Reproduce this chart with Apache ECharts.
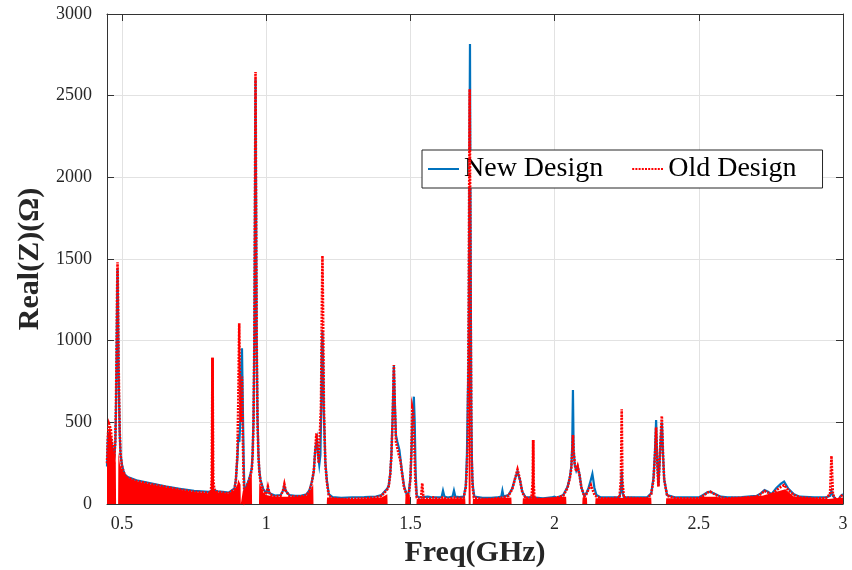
<!DOCTYPE html>
<html>
<head>
<meta charset="utf-8">
<script src="https://cdn.jsdelivr.net/npm/echarts@6/dist/echarts.min.js"></script>
<style>
  html, body { margin: 0; padding: 0; background: #ffffff; }
  #chart { width: 852px; height: 570px; }
</style>
</head>
<body>
<div id="chart"></div>
<script>
// Real part of the input impedance versus frequency, two designs.
const xTicks = [0.5, 1, 1.5, 2, 2.5, 3];
const yTicks = [0, 500, 1000, 1500, 2000, 2500, 3000];

// New design (solid blue)
const newFreq = [
  0.448, 0.451, 0.455, 0.458, 0.461, 0.465, 0.470, 0.474, 0.477, 0.479, 0.481, 0.483, 0.4845, 0.486, 0.488, 0.490,
  0.492, 0.495, 0.500, 0.505, 0.510, 0.520, 0.550, 0.600, 0.650, 0.700, 0.750, 0.800, 0.810, 0.814, 0.818, 0.830,
  0.850, 0.870, 0.890, 0.895, 0.900, 0.904, 0.907, 0.910, 0.913, 0.916, 0.919, 0.922, 0.925, 0.930, 0.935, 0.940,
  0.945, 0.950, 0.953, 0.956, 0.959, 0.961, 0.963, 0.965, 0.967, 0.970, 0.973, 0.976, 0.980, 0.990, 1.000, 1.006,
  1.012, 1.030, 1.050, 1.058, 1.063, 1.068, 1.080, 1.100, 1.120, 1.140, 1.150, 1.158, 1.165, 1.170, 1.176, 1.180,
  1.184, 1.188, 1.191, 1.193, 1.195, 1.197, 1.200, 1.205, 1.210, 1.217, 1.230, 1.260, 1.300, 1.340, 1.380, 1.400,
  1.410, 1.420, 1.425, 1.430, 1.434, 1.438, 1.4427, 1.446, 1.450, 1.455, 1.458, 1.462, 1.466, 1.470, 1.478, 1.485,
  1.490, 1.495, 1.500, 1.504, 1.508, 1.512, 1.515, 1.518, 1.522, 1.530, 1.545, 1.560, 1.564, 1.570, 1.590, 1.608,
  1.613, 1.618, 1.630, 1.646, 1.651, 1.656, 1.670, 1.685, 1.692, 1.696, 1.699, 1.702, 1.704, 1.7066, 1.709, 1.711,
  1.713, 1.715, 1.718, 1.722, 1.750, 1.780, 1.800, 1.815, 1.819, 1.823, 1.840, 1.853, 1.862, 1.8714, 1.880, 1.888,
  1.900, 1.925, 1.960, 1.990, 1.999, 2.008, 2.030, 2.045, 2.053, 2.058, 2.061, 2.0636, 2.066, 2.070, 2.075, 2.080,
  2.086, 2.093, 2.103, 2.110, 2.118, 2.126, 2.131, 2.134, 2.138, 2.145, 2.160, 2.200, 2.225, 2.230, 2.2327, 2.235,
  2.240, 2.280, 2.320, 2.335, 2.343, 2.348, 2.352, 2.356, 2.360, 2.364, 2.368, 2.372, 2.376, 2.380, 2.390, 2.420,
  2.460, 2.500, 2.515, 2.530, 2.540, 2.555, 2.576, 2.600, 2.650, 2.700, 2.715, 2.728, 2.740, 2.752, 2.769, 2.785,
  2.7957, 2.810, 2.830, 2.850, 2.900, 2.940, 2.955, 2.960, 2.965, 2.975, 2.983, 2.990, 3.000
];
const newZ = [
  230, 400, 430, 420, 400, 360, 320, 300, 380, 560, 850, 1250, 1440, 1250, 850, 620,
  440, 300, 240, 205, 180, 165, 145, 126, 108, 93, 80, 74, 78, 110, 85, 78,
  74, 70, 95, 150, 280, 420, 380, 500, 800, 953, 600, 250, 60, 90, 125, 150,
  180, 220, 310, 520, 1000, 1800, 2600, 1800, 1000, 520, 310, 210, 150, 90, 68, 95,
  65, 52, 55, 80, 110, 80, 55, 50, 50, 60, 85, 135, 200, 330, 392, 300,
  240, 300, 600, 950, 1060, 900, 550, 260, 150, 60, 42, 38, 40, 42, 46, 55,
  75, 95, 115, 185, 300, 510, 845, 620, 420, 380, 373, 330, 270, 210, 110, 70,
  45, 80, 160, 330, 540, 657, 500, 200, 50, 40, 42, 45, 57, 42, 40, 42,
  82, 45, 40, 45, 82, 45, 42, 45, 110, 300, 650, 900, 1800, 2816, 1500, 600,
  300, 147, 90, 45, 38, 38, 40, 45, 82, 45, 55, 95, 150, 200, 145, 75,
  40, 40, 35, 40, 45, 38, 55, 105, 165, 230, 350, 698, 330, 240, 205, 230,
  185, 100, 50, 65, 100, 150, 184, 150, 100, 55, 40, 40, 42, 80, 200, 80,
  42, 40, 40, 65, 160, 320, 514, 260, 110, 250, 400, 500, 300, 150, 55, 40,
  40, 40, 55, 72, 75, 62, 45, 40, 42, 50, 65, 85, 75, 60, 98, 125,
  137, 95, 60, 45, 40, 40, 50, 80, 50, 30, 15, 45, 60
];

// Old design (dotted red)
const oldFreq = [
  0.448, 0.451, 0.455, 0.458, 0.461, 0.465, 0.470, 0.474, 0.477, 0.479, 0.481, 0.483, 0.4845, 0.486, 0.488, 0.490,
  0.492, 0.495, 0.500, 0.505, 0.510, 0.520, 0.550, 0.600, 0.650, 0.700, 0.750, 0.800, 0.808, 0.811, 0.8138, 0.8165,
  0.820, 0.830, 0.850, 0.870, 0.890, 0.895, 0.900, 0.903, 0.9065, 0.909, 0.912, 0.916, 0.919, 0.922, 0.925, 0.930,
  0.935, 0.940, 0.945, 0.950, 0.953, 0.956, 0.959, 0.961, 0.963, 0.965, 0.967, 0.970, 0.973, 0.976, 0.980, 0.990,
  1.000, 1.006, 1.012, 1.030, 1.050, 1.058, 1.063, 1.068, 1.080, 1.100, 1.120, 1.140, 1.150, 1.158, 1.165, 1.170,
  1.174, 1.178, 1.182, 1.186, 1.190, 1.193, 1.195, 1.197, 1.200, 1.205, 1.210, 1.217, 1.230, 1.260, 1.300, 1.340,
  1.380, 1.400, 1.410, 1.420, 1.425, 1.430, 1.434, 1.438, 1.4427, 1.446, 1.450, 1.455, 1.460, 1.466, 1.470, 1.478,
  1.485, 1.490, 1.495, 1.500, 1.503, 1.5066, 1.510, 1.513, 1.517, 1.522, 1.530, 1.537, 1.541, 1.545, 1.560, 1.580,
  1.600, 1.613, 1.630, 1.650, 1.670, 1.685, 1.692, 1.696, 1.699, 1.702, 1.7055, 1.709, 1.712, 1.716, 1.720, 1.750,
  1.780, 1.800, 1.820, 1.840, 1.853, 1.862, 1.8714, 1.880, 1.888, 1.900, 1.920, 1.9245, 1.9257, 1.927, 1.930, 1.960,
  2.000, 2.030, 2.045, 2.053, 2.058, 2.062, 2.0636, 2.066, 2.070, 2.075, 2.080, 2.086, 2.093, 2.103, 2.110, 2.118,
  2.126, 2.131, 2.140, 2.160, 2.200, 2.225, 2.230, 2.2327, 2.235, 2.240, 2.280, 2.320, 2.335, 2.343, 2.348, 2.352,
  2.356, 2.360, 2.364, 2.368, 2.3718, 2.376, 2.380, 2.390, 2.420, 2.460, 2.500, 2.515, 2.530, 2.540, 2.555, 2.576,
  2.600, 2.650, 2.700, 2.715, 2.728, 2.740, 2.752, 2.769, 2.785, 2.7957, 2.810, 2.830, 2.850, 2.900, 2.940, 2.955,
  2.960, 2.965, 2.975, 2.983, 2.990, 3.000
];
const oldZ = [
  250, 420, 490, 500, 460, 380, 330, 300, 400, 600, 900, 1300, 1480, 1300, 900, 650,
  450, 300, 230, 200, 175, 160, 140, 122, 105, 88, 75, 68, 70, 150, 896, 150,
  90, 75, 70, 65, 90, 150, 300, 600, 1106, 700, 500, 780, 400, 150, 40, 80,
  120, 140, 170, 210, 300, 500, 1000, 1800, 2645, 1800, 1000, 500, 300, 200, 140, 80,
  60, 106, 60, 45, 50, 80, 122, 80, 50, 45, 45, 55, 80, 130, 200, 330,
  433, 350, 250, 250, 600, 1200, 1520, 1200, 600, 250, 140, 50, 35, 30, 32, 35,
  40, 50, 70, 90, 110, 180, 290, 500, 851, 600, 380, 340, 300, 260, 200, 100,
  67, 50, 70, 150, 300, 590, 560, 400, 150, 40, 30, 40, 127, 40, 30, 40,
  30, 40, 30, 40, 35, 40, 100, 228, 400, 1200, 2540, 1200, 300, 100, 40, 30,
  30, 35, 40, 50, 90, 150, 212, 150, 70, 35, 40, 150, 392, 150, 35, 28,
  35, 50, 100, 160, 220, 350, 422, 330, 240, 200, 230, 180, 100, 45, 60, 90,
  116, 90, 50, 35, 35, 40, 150, 580, 150, 40, 35, 35, 60, 150, 300, 470,
  250, 106, 250, 420, 539, 300, 150, 50, 35, 35, 35, 50, 70, 75, 60, 40,
  35, 38, 45, 60, 80, 70, 55, 85, 105, 116, 85, 55, 40, 35, 35, 60,
  294, 60, 25, 10, 40, 60
];

// Envelope of the old design's rapid oscillation (filled down to zero); the
// narrow resonances at 0.814, 1.706 and 1.926 GHz are dense enough to read as solid
const oldBandFreq = [
  0.448, 0.452, 0.458, 0.462, 0.468, 0.474, 0.4785, 0.4795, 0.4865, 0.4875, 0.493, 0.505, 0.520, 0.550, 0.600, 0.650,
  0.700, 0.750, 0.800, 0.8085, 0.809, 0.8186, 0.819, 0.830, 0.870, 0.890, 0.900, 0.903, 0.908, 0.911, 0.912, 0.918,
  0.919, 0.930, 0.945, 0.950, 0.951, 0.975, 0.976, 0.990, 1.000, 1.030, 1.100, 1.140, 1.155, 1.163, 1.164, 1.210,
  1.211, 1.300, 1.400, 1.420, 1.421, 1.482, 1.483, 1.498, 1.499, 1.521, 1.522, 1.690, 1.691, 1.7020, 1.7023, 1.7087,
  1.7090, 1.716, 1.717, 1.850, 1.851, 1.889, 1.890, 1.9210, 1.9214, 1.9300, 1.9304, 2.040, 2.041, 2.096, 2.097, 2.112,
  2.113, 2.141, 2.142, 2.335, 2.336, 2.386, 2.387, 2.500, 2.510, 2.560, 2.580, 2.720, 2.800, 2.830, 2.950, 3.000
];
const oldBandTop = [
  250, 420, 480, 430, 330, 290, 250, 0, 0, 320, 240, 195, 160, 140, 120, 103,
  87, 74, 66, 85, 896, 896, 85, 72, 64, 85, 120, 150, 140, 120, 0, 0,
  80, 100, 160, 180, 0, 0, 130, 70, 55, 45, 44, 50, 90, 120, 0, 0,
  40, 30, 40, 60, 0, 0, 55, 55, 0, 0, 30, 35, 0, 0, 2540, 2540,
  0, 0, 30, 40, 0, 0, 35, 35, 392, 392, 35, 45, 0, 0, 40, 40,
  0, 0, 35, 40, 0, 0, 35, 35, 45, 45, 35, 50, 90, 45, 30, 40
];

const pairs = (fs, zs) => fs.map((f, i) => [f, zs[i]]);

const serif = '"Liberation Serif", "DejaVu Serif", serif';
const axisColor = '#333333';
const gridColor = '#e2e2e2';
const xMin = 0.448, xMax = 3;

const chart = echarts.init(document.getElementById('chart'), null, { renderer: 'canvas' });

chart.setOption({
  animation: false,
  backgroundColor: '#ffffff',
  grid: { left: 107, right: 9, top: 14, bottom: 66, containLabel: false, outerBoundsMode: 'none' },
  legend: {
    data: ['New Design', 'Old Design'],
    left: 422, top: 150,
    orient: 'horizontal',
    itemWidth: 31, itemHeight: 10, itemGap: 28,
    padding: [5, 26, 5, 5],
    backgroundColor: '#ffffff',
    borderColor: '#262626', borderWidth: 1, borderRadius: 0,
    itemStyle: { opacity: 0, borderWidth: 0 },
    textStyle: { fontFamily: serif, fontSize: 28, color: '#000000' }
  },
  xAxis: [
    {
      type: 'value', min: xMin, max: xMax, position: 'bottom',
      axisLine: { show: true, onZero: false, lineStyle: { color: axisColor, width: 1 } },
      axisTick: { show: true, inside: true, length: 7, customValues: xTicks, lineStyle: { color: axisColor } },
      axisLabel: { customValues: xTicks, margin: 11, fontFamily: serif, fontSize: 18, color: '#262626',
                   formatter: v => String(v) },
      splitLine: { show: true, lineStyle: { color: gridColor, width: 1 } },
      name: 'Freq(GHz)', nameLocation: 'middle', nameGap: 34,
      nameTextStyle: { fontFamily: serif, fontSize: 30, fontWeight: 'bold', color: '#262626' }
    },
    {
      type: 'value', min: xMin, max: xMax, position: 'top',
      axisLine: { show: true, onZero: false, lineStyle: { color: axisColor, width: 1 } },
      axisTick: { show: true, inside: true, length: 7, customValues: xTicks, lineStyle: { color: axisColor } },
      axisLabel: { show: false },
      splitLine: { show: false }
    }
  ],
  yAxis: [
    {
      type: 'value', min: 0, max: 3000, interval: 500, position: 'left',
      axisLine: { show: true, onZero: false, lineStyle: { color: axisColor, width: 1 } },
      axisTick: { show: true, inside: true, length: 7, lineStyle: { color: axisColor } },
      axisLabel: { margin: 15, fontFamily: serif, fontSize: 18, color: '#262626',
                   formatter: v => String(v) },
      splitLine: { show: true, lineStyle: { color: gridColor, width: 1 } },
      name: 'Real(Z)(Ω)', nameLocation: 'middle', nameGap: 52, nameRotate: 90,
      nameTextStyle: { fontFamily: serif, fontSize: 30, fontWeight: 'bold', color: '#262626' }
    },
    {
      type: 'value', min: 0, max: 3000, interval: 500, position: 'right',
      axisLine: { show: true, onZero: false, lineStyle: { color: axisColor, width: 1 } },
      axisTick: { show: true, inside: true, length: 7, lineStyle: { color: axisColor } },
      axisLabel: { show: false },
      splitLine: { show: false }
    }
  ],
  series: [
    {
      name: 'New Design', type: 'line', xAxisIndex: 0, yAxisIndex: 0,
      data: pairs(newFreq, newZ),
      symbol: 'none', z: 2,
      itemStyle: { color: '#0072bd' },
      lineStyle: { color: '#0072bd', width: 2.2, join: 'miter' }
    },
    {
      name: 'Old Design band', type: 'line', xAxisIndex: 0, yAxisIndex: 0,
      data: pairs(oldBandFreq, oldBandTop),
      symbol: 'none', silent: true, z: 3,
      lineStyle: { width: 0, color: '#ff0000' },
      itemStyle: { color: '#ff0000' },
      areaStyle: { color: '#ff0000', opacity: 1 }
    },
    {
      name: 'Old Design', type: 'line', xAxisIndex: 0, yAxisIndex: 0,
      data: pairs(oldFreq, oldZ),
      symbol: 'none', z: 4,
      itemStyle: { color: '#ff0000' },
      lineStyle: { color: '#ff0000', width: 2.6, type: [2, 1.2], cap: 'butt', join: 'miter' }
    }
  ]
});
</script>
</body>
</html>
